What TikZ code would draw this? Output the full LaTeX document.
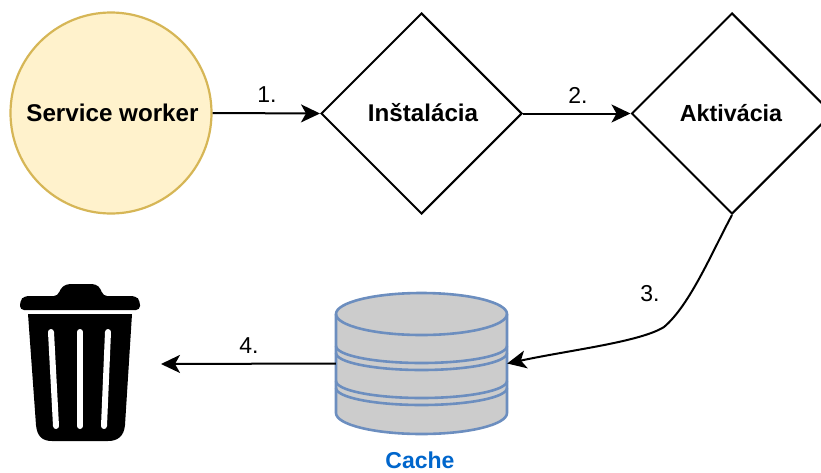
\documentclass[tikz,border=0pt]{standalone}
\usepackage{fontspec}
\setmainfont{Liberation Sans}
\usetikzlibrary{shapes.geometric,arrows.meta}
\definecolor{sw}{HTML}{FFF2CC}
\definecolor{swline}{HTML}{D6B656}
\definecolor{cyl}{HTML}{CCCCCC}
\definecolor{cylline}{HTML}{6C8EBF}
\definecolor{cachetxt}{HTML}{0066CC}
\tikzset{
  x=1pt,y=-1pt,
  shapelabel/.style={font=\fontsize{24.2}{28}\selectfont\bfseries,inner sep=0pt},
  numlabel/.style={font=\fontsize{23}{26}\selectfont,inner sep=0pt},
  decision/.style={diamond,draw=black,line width=2pt,minimum width=201pt,minimum height=201pt,inner sep=0pt,aspect=1},
  conn/.style={draw=black,line width=2pt,-{Stealth[inset=5pt,length=19pt,width=18pt]}},
  cylbody/.style={draw=cylline,fill=cyl,line width=2.6pt},
  cylband/.style={draw=cylline,line width=2.6pt},
  binwhite/.style={draw=white,line width=6pt,line cap=round}
}
\begin{document}
\begin{tikzpicture}
\useasboundingbox (0,0) rectangle (821,472);
\clip (0,0) rectangle (821,472);
\node[circle,draw=swline,fill=sw,line width=2.2pt,minimum size=201pt,inner sep=0pt] (sw) at (111,113) {};
\node[shapelabel] at (112.5,113) {Service worker};
\node[decision] (inst) at (421.5,113.5) {};
\node[shapelabel] at (423,113) {Inštalácia};
\node[decision] (akt) at (732,113.5) {};
\node[shapelabel,font=\fontsize{23.3}{27}\selectfont\bfseries] at (731,113) {Aktivácia};
% cache
\node[minimum width=171pt,minimum height=141pt,inner sep=0pt] (cache) at (421.5,363.5) {};
\draw[cylbody] (336,314) arc[start angle=180,end angle=360,x radius=85.5,y radius=21] -- (507,413)
  arc[start angle=0,end angle=180,x radius=85.5,y radius=21] -- cycle;
\draw[cylband] (336,314) arc[start angle=180,end angle=0,x radius=85.5,y radius=21];
\draw[cylband] (336,346) arc[start angle=180,end angle=0,x radius=85.5,y radius=17];
\draw[cylband] (336,353) arc[start angle=180,end angle=0,x radius=85.5,y radius=17];
\draw[cylband] (336,381) arc[start angle=180,end angle=0,x radius=85.5,y radius=17];
\draw[cylband] (336,388) arc[start angle=180,end angle=0,x radius=85.5,y radius=17];
\node[font=\fontsize{23}{26}\selectfont\bfseries,text=cachetxt,inner sep=0pt] (cachelabel) at (420,460.5) {Cache};
% bin
\fill[black,rounded corners=4pt] (20,310) -- (20,301) -- (24,296) -- (58,296) -- (60,289) -- (66,284) -- (96,284) -- (101,289) -- (103,296) -- (136,296) -- (140,301) -- (140,310) -- cycle;
\fill[black] (28,314) -- (132,314) -- (125,425) .. controls (124,436) and (118,441) .. (108,441) -- (52,441) .. controls (42,441) and (37,436) .. (36,425) -- cycle;
\draw[binwhite] (51,332) -- (56,426);
\draw[binwhite] (80,332) -- (80,426);
\draw[binwhite] (108,332) -- (104,426);
\coordinate (binright) at (161,364);
% connectors
\draw[conn] (sw.east) -- (inst.west);
\draw[conn] (inst.east) -- (akt.west);
\draw[conn] (akt.south) .. controls (712,252) and (690,305) .. (664,327) .. controls (640,342) and (570,350) .. (cache.east);
\draw[conn] (cache.west) -- (binright);
\node[numlabel] (n1) at (267,95) {1.};
\node[numlabel] (n2) at (578,95) {2.};
\node[numlabel] (n3) at (650,294) {3.};
\node[numlabel] (n4) at (249,346) {4.};
\end{tikzpicture}
\end{document}
